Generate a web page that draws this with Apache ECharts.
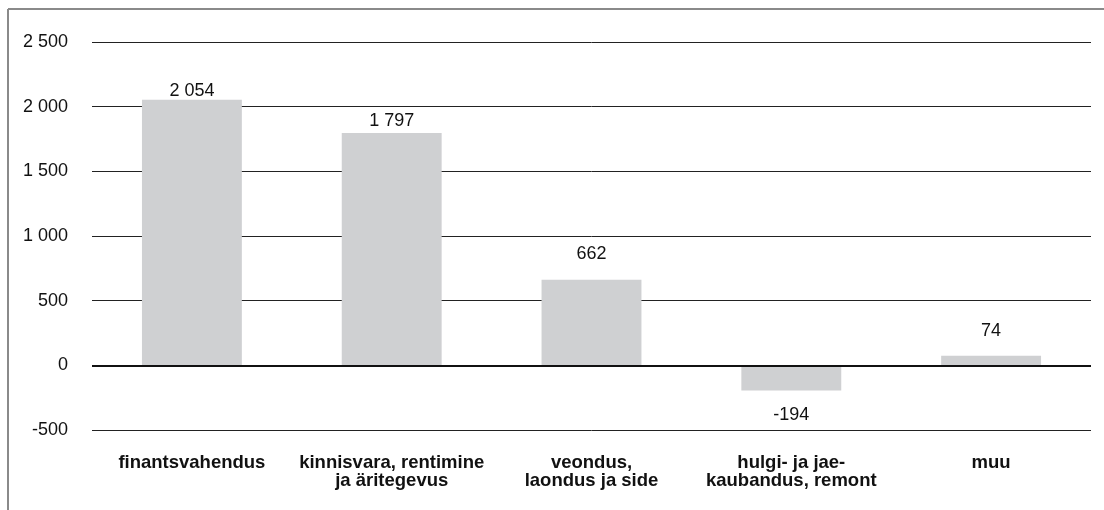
<!DOCTYPE html>
<html>
<head>
<meta charset="utf-8">
<script src="https://cdn.jsdelivr.net/npm/echarts@6/dist/echarts.min.js"></script>
<style>
  html, body { margin: 0; padding: 0; background: #fff; }
  #chart { width: 1104px; height: 510px; }
</style>
</head>
<body>
<div id="chart"></div>
<script>
// tegevusalad
const categories = [
  'finantsvahendus',
  'kinnisvara, rentimine\nja äritegevus',
  'veondus,\nlaondus ja side',
  'hulgi- ja jae-\nkaubandus, remont',
  'muu'
];
const values = [2054, 1797, 662, -194, 74];
const yTicks = [-500, 0, 500, 1000, 1500, 2000, 2500];

// label gap above/below each bar, as in the original
const labelGap = [0, 3, 17, 16, 16];

const fmt = (v) => {
  const s = String(Math.abs(v)).replace(/\B(?=(\d{3})+(?!\d))/g, ' ');
  return (v < 0 ? '-' : '') + s;
};

const chart = echarts.init(document.getElementById('chart'));

const option = {
  animation: false,
  textStyle: { fontFamily: 'Liberation Sans, Arial, sans-serif' },
  graphic: [
    { type: 'line', shape: { x1: 8, y1: 9, x2: 1104, y2: 9 }, style: { stroke: '#8a8a8a', lineWidth: 2 } },
    { type: 'line', shape: { x1: 8, y1: 9, x2: 8, y2: 510 }, style: { stroke: '#8a8a8a', lineWidth: 2 } }
  ],
  grid: { left: 92, right: 13, top: 42, bottom: 80 },
  xAxis: {
    type: 'category',
    data: categories,
    position: 'bottom',
    axisLine: { show: false },
    axisTick: { show: false },
    axisLabel: {
      interval: 0,
      margin: 24,
      fontSize: 18.5,
      fontWeight: 'bold',
      color: '#111',
      lineHeight: 18
    }
  },
  yAxis: {
    type: 'value',
    min: yTicks[0],
    max: yTicks[yTicks.length - 1],
    interval: 500,
    axisLine: { show: false },
    axisTick: { show: false },
    axisLabel: {
      margin: 24,
      fontSize: 18,
      color: '#111',
      formatter: fmt
    },
    splitLine: { lineStyle: { color: '#222', width: 1 } }
  },
  series: [
    {
      type: 'bar',
      barWidth: '50%',
      itemStyle: { color: '#cfd0d2' },
      data: values.map((v, i) => ({
        value: v,
        label: {
          show: true,
          position: v < 0 ? 'bottom' : 'top',
          distance: labelGap[i],
          fontSize: 18,
          color: '#111',
          formatter: (p) => fmt(p.value)
        }
      })),
      markLine: {
        silent: true,
        symbol: 'none',
        label: { show: false },
        lineStyle: { color: '#111', width: 2, type: 'solid' },
        data: [{ yAxis: 0 }]
      }
    }
  ]
};

option && chart.setOption(option);
</script>
</body>
</html>
